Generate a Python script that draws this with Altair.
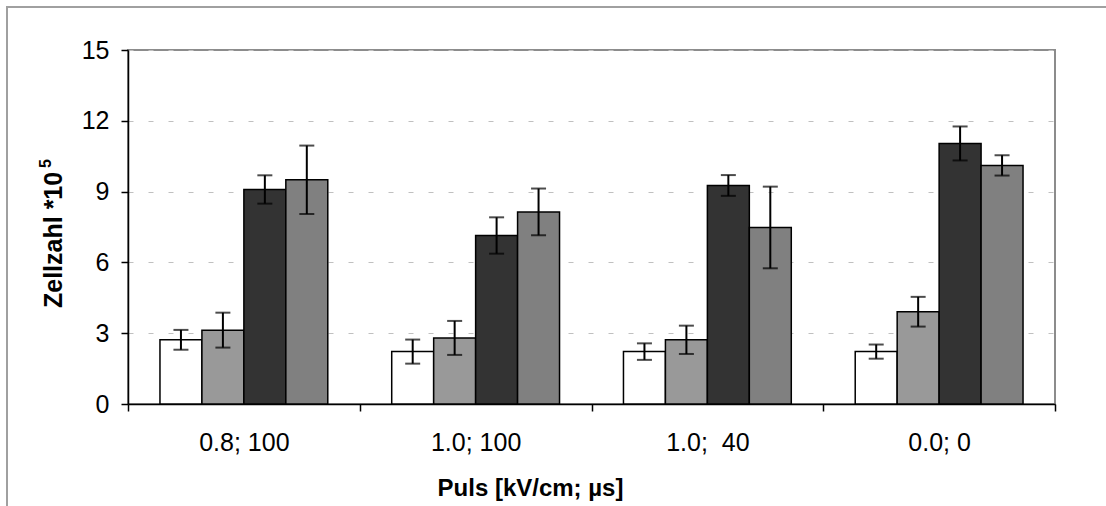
import altair as alt
import pandas as pd

categories = ["0.8; 100", "1.0; 100", "1.0;\u00a0 40", "0.0; 0"]
series = ["S1", "S2", "S3", "S4"]
colors = ["#ffffff", "#999999", "#333333", "#808080"]

s1 = [2.72, 2.22, 2.22, 2.22]
s2 = [3.13, 2.80, 2.72, 3.91]
s3 = [9.09, 7.14, 9.26, 11.04]
s4 = [9.50, 8.14, 7.48, 10.11]

e1 = [0.42, 0.51, 0.35, 0.30]
e2 = [0.74, 0.72, 0.60, 0.63]
e3 = [0.60, 0.77, 0.44, 0.72]
e4 = [1.45, 0.99, 1.73, 0.43]

y_ticks = [0, 3, 6, 9, 12, 15]

rows = []
for name, vals, errs in zip(series, [s1, s2, s3, s4], [e1, e2, e3, e4]):
    for c, v, e in zip(categories, vals, errs):
        rows.append({"cat": c, "series": name, "value": v, "lo": v - e, "hi": v + e})
df = pd.DataFrame(rows)

FONT = "Liberation Sans"

x_enc = alt.X("cat:N", sort=categories, title="Puls [kV/cm; µs]",
              scale=alt.Scale(paddingInner=0, paddingOuter=0),
              axis=alt.Axis(tickBand="extent", labelAngle=0, tickSize=7,
                            labelPadding=19, labelFontSize=25, labelFont=FONT,
                            labelColor="#000000", domainColor="#000000",
                            tickColor="#000000", domainWidth=1.5, tickWidth=1.5,
                            titleFont=FONT, titleFontSize=24, titleFontWeight="bold",
                            titleColor="#000000", titleX=402, titleY=91,
                            titleBaseline="alphabetic", titleAnchor="middle"))
xo_enc = alt.XOffset("series:N", sort=series,
                     scale=alt.Scale(paddingInner=0, paddingOuter=0.762))
y_scale = alt.Scale(domain=[0, 15], nice=False)

bars = alt.Chart(df).mark_bar(stroke="#000000", strokeWidth=1.5).encode(
    x=x_enc,
    xOffset=xo_enc,
    y=alt.Y("value:Q", scale=y_scale, title=None,
            axis=alt.Axis(values=y_ticks, tickSize=7, labelPadding=12,
                          labelFontSize=25, labelFont=FONT, labelColor="#000000",
                          domainColor="#000000", tickColor="#000000",
                          domainWidth=1.5, tickWidth=1.5,
                          grid=True, gridColor="#c0c0c0", gridDash=[5, 15],
                          gridWidth=1)),
    color=alt.Color("series:N", sort=series,
                    scale=alt.Scale(domain=series, range=colors), legend=None),
)

rules = alt.Chart(df).mark_rule(color="#000000", strokeWidth=2).encode(
    x=alt.X("cat:N", sort=categories),
    xOffset=xo_enc,
    y=alt.Y("lo:Q", scale=y_scale),
    y2="hi:Q",
)
cap_lo = alt.Chart(df).mark_tick(color="#000000", thickness=2, size=15,
                                 orient="horizontal").encode(
    x=alt.X("cat:N", sort=categories), xOffset=xo_enc,
    y=alt.Y("lo:Q", scale=y_scale))
cap_hi = alt.Chart(df).mark_tick(color="#000000", thickness=2, size=15,
                                 orient="horizontal").encode(
    x=alt.X("cat:N", sort=categories), xOffset=xo_enc,
    y=alt.Y("hi:Q", scale=y_scale))

one = pd.DataFrame({"a": [0]})
frame = alt.Chart(one).mark_rect(fill=None, stroke="#a0a0a0", strokeWidth=2).encode(
    x=alt.value(-121), x2=alt.value(1200), y=alt.value(-43), y2=alt.value(700))

ytitle = alt.Chart(one).mark_text(text="Zellzahl *10", angle=270, align="left",
                                  baseline="alphabetic", font=FONT, fontSize=25,
                                  fontWeight="bold", color="#000000").encode(
    x=alt.value(-66), y=alt.value(258))
ysup = alt.Chart(one).mark_text(text="5", angle=270, align="left",
                                baseline="alphabetic", font=FONT, fontSize=16,
                                fontWeight="bold", color="#000000").encode(
    x=alt.value(-77), y=alt.value(118))

chart = alt.layer(frame, bars, rules, cap_lo, cap_hi, ytitle, ysup).properties(
    width=927, height=354,
    autosize=alt.AutoSizeParams(type="none"),
    padding={"left": 128, "top": 50, "right": 51, "bottom": 102},
    background="#ffffff",
).configure_view(stroke="#8c8c8c", strokeWidth=2)

chart.save("out.html", embed_options={"renderer": "svg", "actions": False})
